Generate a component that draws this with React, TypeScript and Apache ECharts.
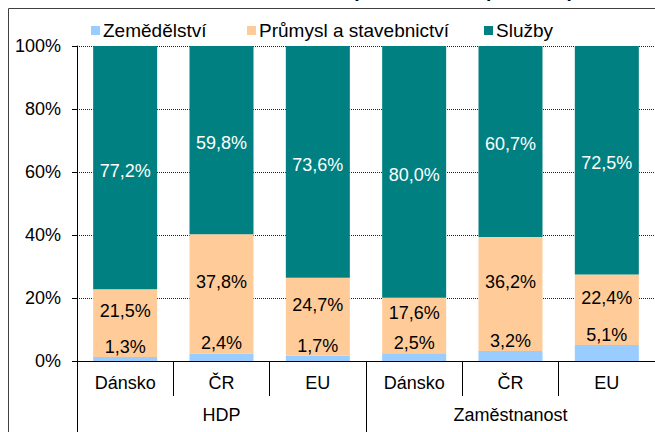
import React, { useEffect, useRef } from "react";
import * as echarts from "echarts";

const categories = ["Dánsko", "ČR", "EU", "Dánsko", "ČR", "EU"];
const groups = ["HDP", "Zaměstnanost"];
const seriesNames = ["Zemědělství", "Průmysl a stavebnictví", "Služby"];
const zemedelstvi = [1.3, 2.4, 1.7, 2.5, 3.2, 5.1];
const prumysl = [21.5, 37.8, 24.7, 17.6, 36.2, 22.4];
const sluzby = [77.2, 59.8, 73.6, 80.0, 60.7, 72.5];
const titleText = "Struktura HDP a zaměstnanosti podle sektorů (rok 2006)";

const FONT = "Liberation Sans, Arial, sans-serif";
const fmt = (v: number) => v.toFixed(1).replace(".", ",") + "%";
const legendLefts = [86, 242, 479];

export default function App() {
  const ref = useRef<HTMLDivElement>(null);
  useEffect(() => {
    if (!ref.current) return;
    const chart = echarts.init(ref.current, undefined, { renderer: "svg" });
    const labelBase = { fontFamily: FONT, fontSize: 18, color: "#000" };
    chart.setOption({
      animation: false,
      backgroundColor: "#fff",
      textStyle: { fontFamily: FONT },
      graphic: [
        {
          type: "rect",
          shape: { x: 8.5, y: 8.5, width: 700, height: 500 },
          style: { fill: "none", stroke: "#404040", lineWidth: 1 },
          silent: true,
        },
        {
          type: "text",
          x: 320,
          y: 0,
          style: {
            text: titleText,
            fontFamily: FONT,
            fontSize: 19,
            fontWeight: "bold",
            fill: "#000",
            textAlign: "center",
            textVerticalAlign: "bottom",
          },
        },
      ],
      legend: seriesNames.map((n, i) => ({
        data: [n],
        left: legendLefts[i],
        top: 16,
        icon: "rect",
        itemWidth: 9,
        itemHeight: 9,
        textStyle: { fontFamily: FONT, fontSize: 19, color: "#000", padding: [0, 0, 0, -2] },
      })),
      grid: { left: 77, top: 46, width: 579, height: 315 },
      xAxis: [
        {
          type: "category",
          data: categories,
          position: "bottom",
          axisLine: { show: true, lineStyle: { color: "#000", width: 1 } },
          axisTick: { show: true, interval: 0, length: 35, lineStyle: { color: "#000" } },
          axisLabel: { interval: 0, margin: 13, ...labelBase },
          splitLine: { show: false },
        },
        {
          type: "category",
          data: groups,
          position: "bottom",
          axisLine: { show: true, lineStyle: { color: "#000", width: 1 } },
          axisTick: { show: true, interval: 0, length: 71, lineStyle: { color: "#000" } },
          axisLabel: { interval: 0, margin: 45, ...labelBase },
          splitLine: { show: false },
        },
      ],
      yAxis: {
        type: "value",
        min: 0,
        max: 100,
        interval: 20,
        axisLine: { show: true, lineStyle: { color: "#000" } },
        axisTick: { show: true, length: 5, lineStyle: { color: "#000" } },
        axisLabel: { formatter: "{value}%", margin: 16, ...labelBase },
        splitLine: { show: true, lineStyle: { color: "#222", type: [1, 1], width: 1 } },
      },
      series: [
        {
          name: seriesNames[0],
          type: "bar",
          stack: "s",
          xAxisIndex: 0,
          barWidth: 64,
          data: zemedelstvi,
          itemStyle: { color: "#99CCFF" },
          label: {
            show: true,
            position: "top",
            distance: 1,
            ...labelBase,
            formatter: (p: any) => fmt(p.value),
          },
        },
        {
          name: seriesNames[1],
          type: "bar",
          stack: "s",
          xAxisIndex: 0,
          barWidth: 64,
          data: prumysl,
          itemStyle: { color: "#FFCC99" },
          label: {
            show: true,
            position: "inside",
            offset: [0, -12],
            ...labelBase,
            formatter: (p: any) => fmt(p.value),
          },
        },
        {
          name: seriesNames[2],
          type: "bar",
          stack: "s",
          xAxisIndex: 0,
          barWidth: 64,
          data: sluzby,
          itemStyle: { color: "#008080" },
          label: {
            show: true,
            position: "inside",
            offset: [0, 3],
            ...labelBase,
            color: "#fff",
            formatter: (p: any) => fmt(p.value),
          },
        },
      ],
    });
    return () => chart.dispose();
  }, []);
  return (
    <div
      ref={ref}
      style={{ position: "fixed", left: 0, top: 0, width: 655, height: 432 }}
    />
  );
}
